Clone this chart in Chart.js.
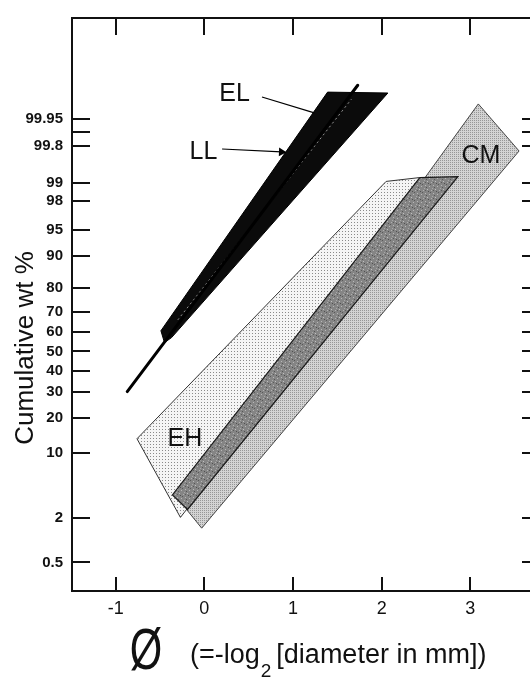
<!DOCTYPE html>
<html>
<head>
<meta charset="utf-8">
<script src="https://cdn.jsdelivr.net/npm/chart.js@4.4.1/dist/chart.umd.min.js"></script>
<style>
  html, body { margin: 0; padding: 0; background: #fff; overflow: hidden; }
  #wrap { width: 548px; height: 680px; }
</style>
</head>
<body>
<div id="wrap"><canvas id="grain"></canvas></div>
<script>
// axis ticks
const xTicks = [-1, 0, 1, 2, 3];
const yTicks = [0.5, 2, 10, 20, 30, 40, 50, 60, 70, 80, 90, 95, 98, 99, 99.8, 99.95];
const yMinorTicks = [99.9];

// EL / LL envelope (black)
const llPhi = [1.39, 2.07, -0.37, -0.45, -0.49, 1.39];
const llPct = [99.9896, 99.989, 57.12, 54.58, 60.63, 99.9896];
// EL trend line
const elPhi = [-0.87, 1.73];
const elPct = [30.27, 99.9933];
// dotted trace inside the envelope
const trPhi = [-0.3, 1.66];
const trPct = [66.0, 99.984];
// EH field
const ehPhi = [-0.76, -0.27, 2.71, 2.43, 2.05, -0.76];
const ehPct = [13.47, 2.01, 99.182, 99.182, 99.046, 13.47];
// dark core band
const coPhi = [2.43, 2.86, -0.19, -0.36, 2.43];
const coPct = [99.182, 99.215, 2.51, 3.72, 99.182];
// CM field
const cmPhi = [3.09, 3.55, -0.03, -0.21, 3.09];
const cmPct = [99.9786, 99.742, 1.47, 2.58, 99.9786];
// leader lines
const elLeadPhi = [0.65, 1.24];
const elLeadPct = [99.9859, 99.964];
const llLeadPhi = [0.2, 0.87];
const llLeadPct = [99.765, 99.73];
// field labels
const labelText = ["EL", "LL", "EH", "CM"];
const labelPhi = [0.34, -0.01, -0.22, 3.12];
const labelPct = [99.9899, 99.748, 14.0, 99.705];

// inverse normal (Acklam)
function probit(p) {
  var a = [-39.69683028665376, 220.9460984245205, -275.9285104469687, 138.357751867269, -30.66479806614716, 2.506628277459239],
    b = [-54.47609879822406, 161.5858368580409, -155.6989798598866, 66.80131188771972, -13.28068155288572],
    c = [-0.007784894002430293, -0.3223964580411365, -2.400758277161838, -2.549732539343734, 4.374664141464968, 2.938163982698783],
    d = [0.007784695709041462, 0.3224671290700398, 2.445134137142996, 3.754408661907416],
    lo = 0.02425, q, r;
  if (p < lo) {
    q = Math.sqrt(-2 * Math.log(p));
    return (((((c[0] * q + c[1]) * q + c[2]) * q + c[3]) * q + c[4]) * q + c[5]) /
      ((((d[0] * q + d[1]) * q + d[2]) * q + d[3]) * q + 1);
  }
  if (p > 1 - lo) {
    q = Math.sqrt(-2 * Math.log(1 - p));
    return -(((((c[0] * q + c[1]) * q + c[2]) * q + c[3]) * q + c[4]) * q + c[5]) /
      ((((d[0] * q + d[1]) * q + d[2]) * q + d[3]) * q + 1);
  }
  q = p - 0.5; r = q * q;
  return (((((a[0] * r + a[1]) * r + a[2]) * r + a[3]) * r + a[4]) * r + a[5]) * q /
    (((((b[0] * r + b[1]) * r + b[2]) * r + b[3]) * r + b[4]) * r + 1);
}
// the printed probability paper is a little compressed toward the top
function warp(pct) {
  var z = probit(pct / 100);
  return z - 0.02487 * z * z;
}

class ProbabilityScale extends Chart.Scale {
  determineDataLimits() {
    this.min = this.options.min;
    this.max = this.options.max;
  }
  buildTicks() {
    return yTicks.concat(yMinorTicks).sort((a, b) => a - b).map(v => ({ value: v }));
  }
  configure() {
    super.configure();
    this._wLo = warp(this.min);
    this._wHi = warp(this.max);
  }
  getLabelForValue(v) { return String(v); }
  getPixelForValue(v) {
    return this.getPixelForDecimal((warp(v) - this._wLo) / (this._wHi - this._wLo));
  }
  getValueForPixel(px) {
    var lo = this.min, hi = this.max, i, mid;
    for (i = 0; i < 50; i++) {
      mid = (lo + hi) / 2;
      if (this.getPixelForValue(mid) > px) lo = mid; else hi = mid;
    }
    return mid;
  }
}
ProbabilityScale.id = "probability";
ProbabilityScale.defaults = {};
Chart.register(ProbabilityScale);

function pattern(w, h, bg, marks) {
  var c = document.createElement("canvas");
  c.width = w; c.height = h;
  var g = c.getContext("2d");
  g.fillStyle = bg; g.fillRect(0, 0, w, h);
  marks.forEach(function (m) { g.fillStyle = m[2]; g.fillRect(m[0], m[1], 1, 1); });
  return g.createPattern(c, "repeat");
}
var ehFill = pattern(3, 3, "#f5f5f5", [[0, 0, "#8a8a8a"]]);
var cmFill = pattern(2, 2, "#d3d3d3", [[0, 0, "#969696"]]);
var coFill = pattern(8, 8, "#858585", [[1, 1, "#b8b8b8"], [5, 2, "#b8b8b8"], [3, 5, "#c0c0c0"], [7, 6, "#b0b0b0"], [0, 4, "#a8a8a8"],
  [2, 3, "#555"], [6, 0, "#585858"], [4, 7, "#505050"], [1, 6, "#5a5a5a"]]);

function pts(xs, ys) { return xs.map(function (v, i) { return { x: v, y: ys[i] }; }); }

var decor = {
  id: "decor",
  afterDatasetsDraw: function (chart) {
    var ctx = chart.ctx, a = chart.chartArea, x = chart.scales.x, y = chart.scales.y;
    ctx.save();
    ctx.strokeStyle = "#111";
    ctx.lineWidth = 2;
    ctx.strokeRect(a.left, a.top, a.right - a.left, a.bottom - a.top);
    ctx.beginPath();
    y.ticks.forEach(function (t) {
      var py = Math.round(y.getPixelForValue(t.value));
      ctx.moveTo(a.left, py); ctx.lineTo(a.left + 18, py);
      ctx.moveTo(a.right, py); ctx.lineTo(a.right - 18, py);
    });
    x.ticks.forEach(function (t) {
      var px = Math.round(x.getPixelForValue(t.value));
      ctx.moveTo(px, a.bottom); ctx.lineTo(px, a.bottom - 14);
      ctx.moveTo(px, a.top); ctx.lineTo(px, a.top + 17);
    });
    ctx.stroke();

    ctx.fillStyle = "#111";
    ctx.textAlign = "center";
    ctx.textBaseline = "alphabetic";
    ctx.font = '25px "Liberation Sans", Arial, sans-serif';
    labelText.forEach(function (s, i) {
      ctx.fillText(s, x.getPixelForValue(labelPhi[i]), y.getPixelForValue(labelPct[i]) + 9);
    });

    // y axis title
    ctx.save();
    ctx.translate(33, 348);
    ctx.rotate(-Math.PI / 2);
    ctx.font = '26px "Liberation Sans", Arial, sans-serif';
    ctx.fillText("Cumulative wt %", 0, 0);
    ctx.restore();

    // x axis title
    ctx.save();
    ctx.translate(146, 669);
    ctx.scale(0.72, 1);
    ctx.font = '58px "Liberation Sans", Arial, sans-serif';
    ctx.fillText("\u00d8", 0, 0);
    ctx.restore();
    ctx.textAlign = "left";
    ctx.font = '27px "Liberation Sans", Arial, sans-serif';
    var tx = 190;
    ctx.fillText("(=-log", tx, 663);
    tx += ctx.measureText("(=-log").width + 1;
    ctx.font = '19px "Liberation Sans", Arial, sans-serif';
    ctx.fillText("2", tx, 677);
    tx += ctx.measureText("2").width + 5;
    ctx.font = '27px "Liberation Sans", Arial, sans-serif';
    ctx.fillText("[diameter in mm])", tx, 663);
    ctx.restore();
  }
};

Chart.defaults.font.family = '"Liberation Sans", Arial, sans-serif';
Chart.defaults.color = "#111";

new Chart(document.getElementById("grain"), {
  type: "line",
  data: {
    datasets: [
      { data: pts(cmPhi, cmPct), fill: "shape", backgroundColor: cmFill, borderColor: "#444", borderWidth: 1, order: 6 },
      { data: pts(ehPhi, ehPct), fill: "shape", backgroundColor: ehFill, borderColor: "#333", borderWidth: 1, order: 5 },
      { data: pts(coPhi, coPct), fill: "shape", backgroundColor: coFill, borderColor: "#1a1a1a", borderWidth: 1.2, order: 4 },
      { data: pts(llPhi, llPct), fill: "shape", backgroundColor: "#0b0b0b", borderColor: "#000", borderWidth: 1, order: 3 },
      { data: pts(trPhi, trPct), borderColor: "rgba(255,255,255,0.55)", borderWidth: 1, borderDash: [2, 3], order: 2 },
      { data: pts(elPhi, elPct), borderColor: "#000", borderWidth: 3, borderCapStyle: "round", order: 1 },
      { data: pts(elLeadPhi, elLeadPct), borderColor: "#000", borderWidth: 1.2, order: 0 },
      {
        data: pts(llLeadPhi, llLeadPct), borderColor: "#000", borderWidth: 1.2, order: 0,
        pointRadius: [0, 5], pointStyle: "triangle", pointRotation: 92,
        pointBackgroundColor: "#000", pointBorderWidth: 0
      }
    ]
  },
  options: {
    responsive: true,
    maintainAspectRatio: false,
    animation: false,
    events: [],
    layout: { padding: { left: 0, right: 8, top: 7, bottom: 0 } },
    elements: { point: { radius: 0 }, line: { tension: 0 } },
    plugins: { legend: { display: false }, tooltip: { enabled: false } },
    scales: {
      x: {
        type: "linear",
        min: -1.493,
        max: 3.786,
        afterBuildTicks: function (s) { s.ticks = xTicks.map(function (v) { return { value: v }; }); },
        afterFit: function (s) { s.height = 89; },
        grid: { display: false, drawTicks: false },
        border: { display: false },
        ticks: { font: { size: 18 }, padding: 7, maxRotation: 0, autoSkip: false }
      },
      y: {
        type: "probability",
        min: 0.185,
        max: 99.99996,
        afterFit: function (s) { s.width = 72; },
        grid: { display: false, drawTicks: false },
        border: { display: false },
        ticks: {
          font: { size: 15, weight: "bold" },
          padding: 9,
          autoSkip: false,
          callback: function (v) { return yMinorTicks.indexOf(v) >= 0 ? "" : String(v); }
        }
      }
    }
  },
  plugins: [decor]
});
</script>
</body>
</html>
